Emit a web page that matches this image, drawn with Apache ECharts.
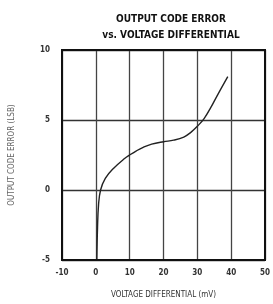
<!DOCTYPE html>
<html>
<head>
<meta charset="utf-8">
<script src="https://cdn.jsdelivr.net/npm/echarts@6/dist/echarts.min.js"></script>
<style>
html,body{margin:0;padding:0;background:#fff;}
#chart{width:273px;height:304px;}
</style>
</head>
<body>
<div id="chart"></div>
<script>
// Data
var voltageMv = [0.3, 0.5, 0.8, 1.4, 2.8, 5.2, 8.5, 10, 12, 14, 16.5, 20, 23, 26, 28, 30, 32, 34, 36, 39];
var codeErrorLsb = [-5, -2.7, -1.06, 0, 0.83, 1.54, 2.25, 2.5, 2.8, 3.05, 3.28, 3.45, 3.56, 3.78, 4.1, 4.55, 5.1, 5.9, 6.8, 8.1];
var xTicks = {min: -10, max: 50, interval: 10};
var yTicks = {min: -5, max: 10, interval: 5};
var titleLines = ['OUTPUT CODE ERROR', 'vs. VOLTAGE DIFFERENTIAL'];
var xName = 'VOLTAGE DIFFERENTIAL (mV)';
var yName = 'OUTPUT CODE ERROR (LSB)';

var narrow = "'Liberation Sans Narrow', 'DejaVu Sans Condensed', sans-serif";
var points = voltageMv.map(function (v, i) { return [v, codeErrorLsb[i]]; });

var chart = echarts.init(document.getElementById('chart'), null, {renderer: 'canvas'});
chart.setOption({
  animation: false,
  backgroundColor: '#ffffff',
  title: {
    text: titleLines.join('\n'),
    left: 166,
    top: 6,
    textAlign: 'center',
    textStyle: {
      fontFamily: narrow,
      fontWeight: 'bold',
      fontSize: 10,
      lineHeight: 16,
      color: '#111'
    }
  },
  grid: {left: 59, right: 2, top: 50, bottom: 42, containLabel: false},
  xAxis: {
    type: 'value',
    min: xTicks.min, max: xTicks.max, interval: xTicks.interval,
    name: xName,
    nameLocation: 'middle',
    nameGap: 31,
    nameTextStyle: {fontFamily: narrow, fontSize: 8, color: '#333'},
    axisLine: {show: false},
    axisTick: {show: false},
    axisLabel: {fontFamily: narrow, fontSize: 8, color: '#333', fontWeight: 'bold', margin: 9},
    splitLine: {show: true, lineStyle: {color: '#444', width: 1.3}}
  },
  yAxis: {
    type: 'value',
    min: yTicks.min, max: yTicks.max, interval: yTicks.interval,
    name: yName,
    nameLocation: 'middle',
    nameRotate: 90,
    nameGap: 46,
    nameTextStyle: {fontFamily: narrow, fontSize: 8, color: '#666'},
    axisLine: {show: false},
    axisTick: {show: false},
    axisLabel: {fontFamily: narrow, fontSize: 8, color: '#333', fontWeight: 'bold', margin: 12},
    splitLine: {show: true, lineStyle: {color: '#333', width: 1.3}}
  },
  graphic: [],
  series: [{
    type: 'line',
    data: points,
    smooth: 0.4,
    showSymbol: false,
    lineStyle: {color: '#222', width: 1.4},
    z: 5
  }]
});

// plot frame drawn through the axis scales
function framePx() {
  var tl = chart.convertToPixel({gridIndex: 0}, [xTicks.min, yTicks.max]);
  var br = chart.convertToPixel({gridIndex: 0}, [xTicks.max, yTicks.min]);
  return {x: tl[0], y: tl[1], width: br[0] - tl[0], height: br[1] - tl[1]};
}
chart.setOption({
  graphic: [{
    type: 'rect',
    shape: framePx(),
    style: {fill: 'none', stroke: '#111', lineWidth: 2},
    z: 10,
    silent: true
  }]
});
</script>
</body>
</html>
